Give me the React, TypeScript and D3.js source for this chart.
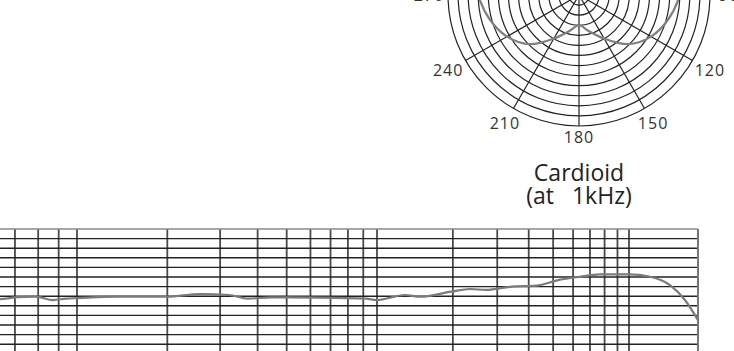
import { useEffect, useRef } from "react"
import * as d3 from "d3"

// Polar pattern: level in dB at angle (degrees, clockwise from on-axis)
const polarAngles = [0, 15, 30, 45, 60, 75, 90, 105, 120, 135, 150, 165, 180, 195, 210, 225, 240, 255, 270, 285, 300, 315, 330, 345]
const polarLevels = [0, -0.3, -0.8, -1.8, -3.0, -4.4, -6.0, -7.6, -9.5, -12.2, -16.0, -18.6, -20, -18.6, -16.0, -12.2, -9.5, -7.6, -6.0, -4.4, -3.0, -1.8, -0.8, -0.3]
const polarRings = [-24, -22, -20, -18, -16, -14, -12, -10, -8, -6, -4, -2, 0]
const polarSpokes = [0, 30, 60, 90, 120, 150, 180, 210, 240, 270, 300, 330]
const titleLines = ["Cardioid", "(at   1kHz)"]

// Frequency response
const gridFreqs = [20, 30, 40, 50, 60, 70, 80, 90, 100, 200, 300, 400, 500, 600, 700, 800, 900, 1000, 2000, 3000, 4000, 5000, 6000, 7000, 8000, 9000, 10000]
const gridLevels = [14, 12, 10, 8, 6, 4, 2, 0, -2, -4, -6, -8, -10, -12]
const respFreqs = [50, 64, 71, 78, 80, 87, 94, 100, 136, 200, 257, 321, 371, 446, 645, 919, 1000, 1290, 1480, 1970, 2340, 2710, 3430, 4280, 5280, 6390, 7670, 10000, 12350, 15100, 17550, 20000]
const respLevels = [-0.6, -0.6, -0.2, -0.1, -0.15, -0.8, -0.5, -0.4, -0.1, -0.1, 0.45, 0.25, -0.5, -0.25, -0.3, -0.5, -0.8, 0.25, -0.1, 0.95, 1.5, 1.3, 2.0, 2.2, 3.4, 4.05, 4.55, 4.55, 4.05, 2.3, -0.8, -5.0]

const FONT = "'Open Sans', 'Noto Sans', sans-serif"

export default function App() {
  const svgRef = useRef<SVGSVGElement>(null)

  useEffect(() => {
    if (!svgRef.current) return
    const svg = d3.select(svgRef.current)
    svg.selectAll("*").remove()

    const rad = (deg: number) => (deg * Math.PI) / 180

    // ---- polar plot ----
    const cx = 579
    const cy = -5
    const R = 131
    const rScale = d3.scaleLinear().domain([-26, 0]).range([0, R])

    const pg = svg.append("g").attr("transform", `translate(${cx},${cy})`)

    pg.selectAll(".ring")
      .data(polarRings)
      .enter()
      .append("circle")
      .attr("class", "ring")
      .attr("r", (d) => rScale(d))
      .attr("fill", "none")
      .attr("stroke", "#222")
      .attr("stroke-width", 1.2)

    pg.selectAll(".spoke")
      .data(polarSpokes)
      .enter()
      .append("line")
      .attr("class", "spoke")
      .attr("x1", 0)
      .attr("y1", 0)
      .attr("x2", (d) => R * Math.sin(rad(d)))
      .attr("y2", (d) => -R * Math.cos(rad(d)))
      .attr("stroke", "#222")
      .attr("stroke-width", 1.2)

    // angle labels, pushed out by the text box extent
    const labelW = 28
    const labelH = 12
    const labelR = (d: number) =>
      R + 5 + Math.abs(Math.sin(rad(d))) * (labelW / 2) + Math.abs(Math.cos(rad(d))) * (labelH / 2)

    pg.selectAll(".angle-label")
      .data(polarSpokes)
      .enter()
      .append("text")
      .attr("class", "angle-label")
      .attr("x", (d) => labelR(d) * Math.sin(rad(d)))
      .attr("y", (d) => -labelR(d) * Math.cos(rad(d)))
      .attr("dy", "0.35em")
      .attr("text-anchor", "middle")
      .attr("font-family", FONT)
      .attr("font-size", 16)
      .attr("letter-spacing", 1)
      .attr("fill", "#333")
      .text((d) => String(d))

    const pattern = d3
      .lineRadial<number>()
      .angle((_, i) => rad(polarAngles[i]))
      .radius((d) => rScale(d))
      .curve(d3.curveCatmullRomClosed)

    pg.append("path")
      .attr("d", pattern(polarLevels))
      .attr("fill", "none")
      .attr("stroke", "#808080")
      .attr("stroke-width", 2.2)

    svg.selectAll(".title")
      .data(titleLines)
      .enter()
      .append("text")
      .attr("class", "title")
      .attr("x", cx)
      .attr("y", (_, i) => 181 + i * 23)
      .attr("text-anchor", "middle")
      .attr("font-family", FONT)
      .attr("font-size", 23)
      .attr("fill", "#222")
      .style("white-space", "pre")
      .text((d) => d)

    // ---- frequency response ----
    // decades of the original grid are not equally wide
    const x = d3.scaleLog().domain([20, 100, 1000, 10000, 20000]).range([-203, 77, 377, 629, 698])
    const y = d3.scaleLinear().domain([14, -12]).range([229, 353.8])

    const fg = svg.append("g")

    fg.selectAll(".vgrid")
      .data(gridFreqs)
      .enter()
      .append("line")
      .attr("class", "vgrid")
      .attr("x1", (d) => x(d))
      .attr("x2", (d) => x(d))
      .attr("y1", y(14))
      .attr("y2", y(-12))
      .attr("stroke", "#4a4a4a")
      .attr("stroke-width", 1.8)

    fg.selectAll(".hgrid")
      .data(gridLevels)
      .enter()
      .append("line")
      .attr("class", "hgrid")
      .attr("x1", x(20))
      .attr("x2", x(20000))
      .attr("y1", (d) => y(d))
      .attr("y2", (d) => y(d))
      .attr("stroke", (d) => (d === gridLevels[0] ? "#8a8a8a" : "#222"))
      .attr("stroke-width", (d) => (d === gridLevels[0] ? 1.6 : 1.4))

    // right border
    fg.append("line")
      .attr("x1", x(20000))
      .attr("x2", x(20000))
      .attr("y1", y(14))
      .attr("y2", y(-12))
      .attr("stroke", "#777")
      .attr("stroke-width", 2)

    const response = d3
      .line<number>()
      .x((_, i) => x(respFreqs[i]))
      .y((d) => y(d))
      .curve(d3.curveMonotoneX)

    fg.append("path")
      .attr("d", response(respLevels))
      .attr("fill", "none")
      .attr("stroke", "#7a7a7a")
      .attr("stroke-width", 2.2)
  }, [])

  return (
    <svg
      ref={svgRef}
      width={734}
      height={351}
      style={{ position: "absolute", left: 0, top: 0, background: "#fff" }}
    />
  )
}
